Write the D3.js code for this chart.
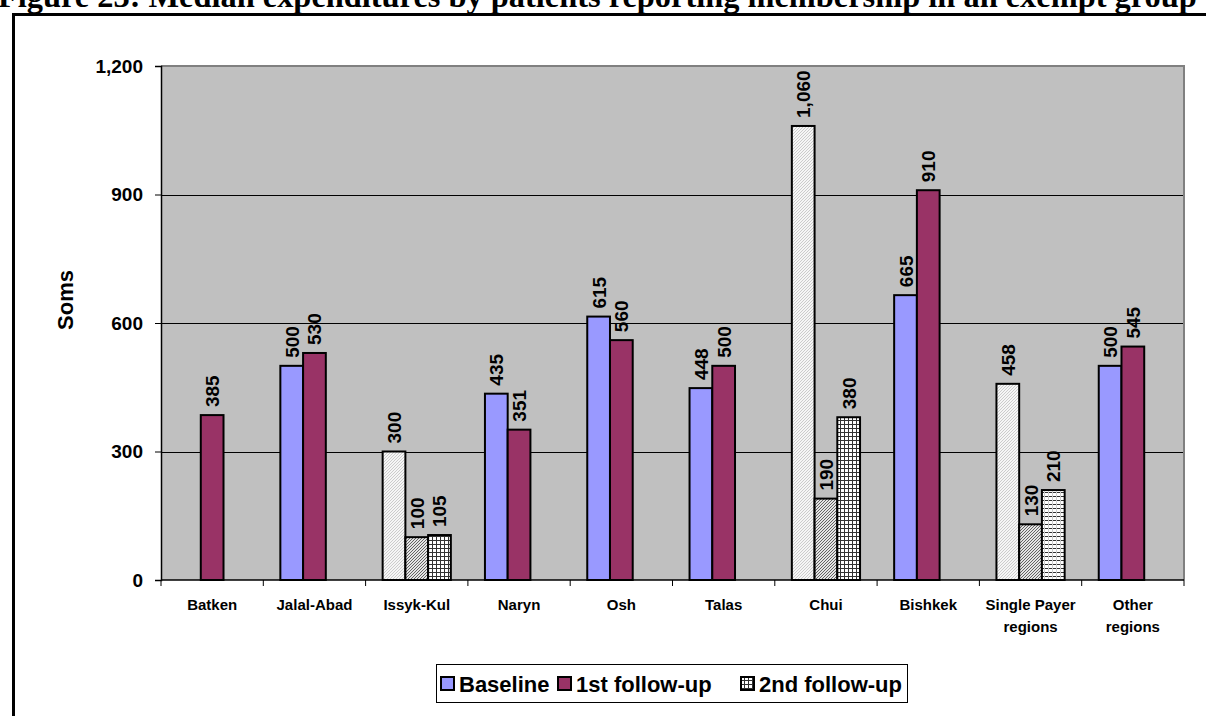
<!DOCTYPE html>
<html>
<head>
<meta charset="utf-8">
<script src="https://cdn.jsdelivr.net/npm/d3@7/dist/d3.min.js"></script>
<style>
  html, body { margin: 0; padding: 0; background: #fff; }
  svg { display: block; }
  text { font-family: Arial, "Liberation Sans", sans-serif; font-weight: bold; fill: #000; }
</style>
</head>
<body>
<svg id="chart" width="1206" height="716"></svg>
<script>
// Median expenditures (soms) by region and survey round
const categories = ["Batken", "Jalal-Abad", "Issyk-Kul", "Naryn", "Osh", "Talas", "Chui", "Bishkek", "Single Payer regions", "Other regions"];
const seriesNames = ["Baseline", "1st follow-up", "2nd follow-up"];
const baseline   = [null, 500, 300, 435, 615, 448, 1060, 665, 458, 500];
const followUp1  = [385, 530, 100, 351, 560, 500, 190, 910, 130, 545];
const followUp2  = [null, null, 105, null, null, null, 380, null, 210, null];
const yTicks = [0, 300, 600, 900, 1200];
// Regions whose bars are drawn with hatched fills
const patternedCategories = ["Issyk-Kul", "Chui", "Single Payer regions"];

const seriesValues = [baseline, followUp1, followUp2];
const seriesColors = ["#9999FF", "#993366", "url(#grid)"];
const patternFills = ["url(#lightDiag)", "url(#darkDiag)", "url(#grid)"];

const svg = d3.select("#chart");
const defs = svg.append("defs");

// light diagonal hatch
const p1 = defs.append("pattern").attr("id", "lightDiag").attr("patternUnits", "userSpaceOnUse")
  .attr("width", 3).attr("height", 3);
p1.append("rect").attr("width", 3).attr("height", 3).attr("fill", "#f6f6f6");
p1.append("path").attr("d", "M0,3 L3,0 M-1,1 L1,-1 M2,4 L4,2").attr("stroke", "#b0b0b0").attr("stroke-width", 0.6);

// dark diagonal hatch
const p2 = defs.append("pattern").attr("id", "darkDiag").attr("patternUnits", "userSpaceOnUse")
  .attr("width", 3).attr("height", 3);
p2.append("rect").attr("width", 3).attr("height", 3).attr("fill", "#e4e4e4");
p2.append("path").attr("d", "M0,3 L3,0 M-1,1 L1,-1 M2,4 L4,2").attr("stroke", "#555").attr("stroke-width", 0.9);

// small grid
const p3 = defs.append("pattern").attr("id", "grid").attr("patternUnits", "userSpaceOnUse")
  .attr("width", 4).attr("height", 4);
p3.append("rect").attr("width", 4).attr("height", 4).attr("fill", "#fff");
p3.append("path").attr("d", "M0,0.5 H4 M0.5,0 V4").attr("stroke", "#333").attr("stroke-width", 1);

// horizontal lines
const p4 = defs.append("pattern").attr("id", "hlines").attr("patternUnits", "userSpaceOnUse")
  .attr("width", 4).attr("height", 4);
p4.append("rect").attr("width", 4).attr("height", 4).attr("fill", "#fff");
p4.append("path").attr("d", "M0,0.5 H4").attr("stroke", "#333").attr("stroke-width", 1);
p4.append("path").attr("d", "M0.5,0 V4").attr("stroke", "#ccc").attr("stroke-width", 1);

// Title and outer frame
svg.append("text")
  .attr("x", -2).attr("y", 7)
  .style("font-family", "'Liberation Serif', 'Times New Roman', serif")
  .style("font-size", "32.4px")
  .text("Figure 23:  Median expenditures by patients reporting membership in an exempt group");

svg.append("path")
  .attr("d", "M13.5,716 V14.5 H1206")
  .attr("fill", "none").attr("stroke", "#000").attr("stroke-width", 3);

// Plot area
const plot = { left: 161, right: 1184, top: 66, bottom: 580 };

const x0 = d3.scaleBand().domain(categories).range([plot.left, plot.right])
  .paddingInner(1 / 3).paddingOuter(1 / 6);
const x1 = d3.scaleBand().domain(d3.range(seriesNames.length)).range([0, x0.bandwidth()]);
const y = d3.scaleLinear().domain([0, 1200]).range([plot.bottom, plot.top]);

svg.append("rect")
  .attr("x", plot.left).attr("y", plot.top)
  .attr("width", plot.right - plot.left).attr("height", plot.bottom - plot.top)
  .attr("fill", "#C0C0C0");

// gridlines
svg.append("g").selectAll("line").data(yTicks.filter(t => t > 0 && t < 1200)).join("line")
  .attr("x1", plot.left).attr("x2", plot.right)
  .attr("y1", d => Math.round(y(d)) + 0.5).attr("y2", d => Math.round(y(d)) + 0.5)
  .attr("stroke", "#000").attr("stroke-width", 1);

// top and right edges of the plot area
svg.append("path")
  .attr("d", `M${plot.left},${plot.top} H${plot.right} V${plot.bottom}`)
  .attr("fill", "none").attr("stroke", "#808080").attr("stroke-width", 2);

// bars
const bars = [];
categories.forEach((c, i) => {
  seriesValues.forEach((vals, s) => {
    const v = vals[i];
    if (v == null) return;
    let fill = seriesColors[s];
    if (patternedCategories.includes(c)) {
      fill = patternFills[s];
      if (c === "Single Payer regions" && s === 2) fill = "url(#hlines)";
    }
    bars.push({ c, s, v, fill });
  });
});

const gBars = svg.append("g");
gBars.selectAll("rect").data(bars).join("rect")
  .attr("x", d => x0(d.c) + x1(d.s))
  .attr("y", d => y(d.v))
  .attr("width", x1.bandwidth())
  .attr("height", d => y(0) - y(d.v))
  .attr("fill", d => d.fill)
  .attr("stroke", "#000").attr("stroke-width", 2);

// value labels
const fmt = d3.format(",");
gBars.selectAll("text").data(bars).join("text")
  .attr("transform", d => `translate(${x0(d.c) + x1(d.s) + x1.bandwidth() / 2 + 7},${y(d.v) - 8}) rotate(-90)`)
  .attr("text-anchor", "start")
  .style("font-size", "19px")
  .text(d => fmt(d.v));

// y axis
const yAxis = svg.append("g").attr("transform", `translate(${plot.left},0)`)
  .call(d3.axisLeft(y).tickValues(yTicks).tickFormat(fmt).tickSize(6).tickPadding(12));
yAxis.select(".domain").attr("stroke", "#000").attr("stroke-width", 1.5);
yAxis.selectAll("text").style("font-size", "19px").style("font-family", "Arial, 'Liberation Sans', sans-serif");

// x axis
const xAxis = svg.append("g").attr("transform", `translate(0,${plot.bottom})`);
xAxis.append("line").attr("x1", plot.left).attr("x2", plot.right).attr("y1", 0).attr("y2", 0)
  .attr("stroke", "#000").attr("stroke-width", 1.5);
const step = x0.step();
xAxis.selectAll("line.tick").data(d3.range(categories.length + 1)).join("line")
  .attr("class", "tick")
  .attr("x1", i => plot.left + i * step).attr("x2", i => plot.left + i * step)
  .attr("y1", 0).attr("y2", 6).attr("stroke", "#000");

const xLabels = {
  "Single Payer regions": ["Single Payer", "regions"],
  "Other regions": ["Other", "regions"]
};
const xl = xAxis.selectAll("text").data(categories).join("text")
  .attr("text-anchor", "middle")
  .style("font-size", "15px")
  .attr("transform", c => `translate(${x0(c) + x0.bandwidth() / 2},0)`);
xl.each(function (c) {
  const lines = xLabels[c] || [c];
  d3.select(this).selectAll("tspan").data(lines).join("tspan")
    .attr("x", 0).attr("y", (d, i) => 30 + i * 22).text(d => d);
});

// axis title
svg.append("text")
  .attr("transform", "translate(73,300) rotate(-90)")
  .attr("text-anchor", "middle")
  .style("font-size", "22px")
  .text("Soms");

// legend
const legend = svg.append("g");
legend.append("rect").attr("x", 436.5).attr("y", 664.5).attr("width", 471).attr("height", 38)
  .attr("fill", "#fff").attr("stroke", "#000").attr("stroke-width", 1);
const legendX = [441, 558, 741];
seriesNames.forEach((n, i) => {
  legend.append("rect").attr("x", legendX[i]).attr("y", 677).attr("width", 13).attr("height", 13)
    .attr("fill", seriesColors[i]).attr("stroke", "#000").attr("stroke-width", 2);
  legend.append("text").attr("x", legendX[i] + 18).attr("y", 692)
    .style("font-size", "22px").text(n);
});
</script>
</body>
</html>
